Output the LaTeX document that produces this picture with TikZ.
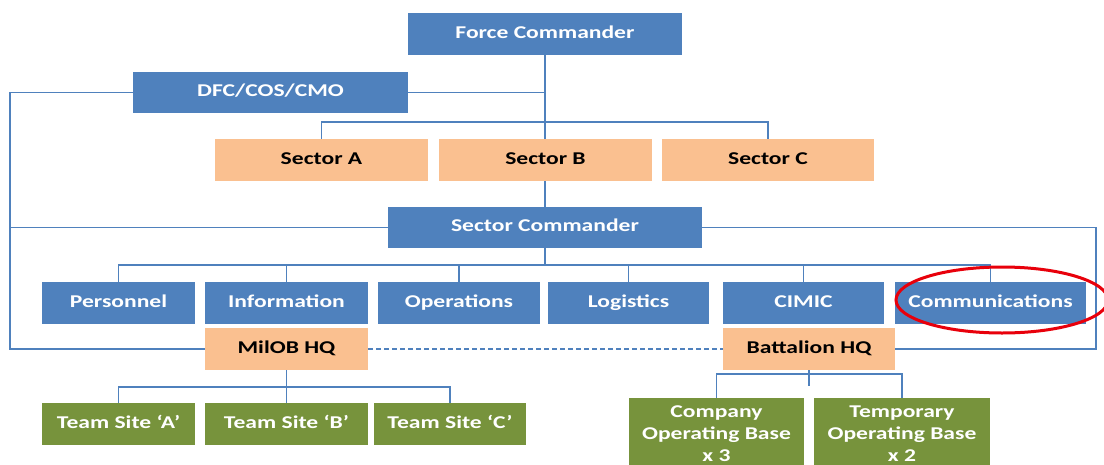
\documentclass[tikz,border=0pt]{standalone}
\usepackage{fontspec}
\setmainfont{Carlito}
\usepackage{graphicx}
\usetikzlibrary{calc,shapes.geometric}
\definecolor{offblue}{HTML}{4F81BD}
\definecolor{offorange}{HTML}{FAC090}
\definecolor{offgreen}{HTML}{77933C}
\definecolor{linecol}{HTML}{4F81BD}
\definecolor{ringred}{HTML}{E8000B}
\pgfdeclarelayer{bg}
\pgfsetlayers{bg,main}
\newcommand{\btxt}[1]{\scalebox{1.31}[1]{\begin{tabular}{@{}c@{}}#1\end{tabular}}}
\begin{document}
\begin{tikzpicture}[x=1pt,y=-1pt,
  box/.style={rectangle, inner sep=0pt, font=\fontsize{18}{22}\selectfont\bfseries},
  bluebox/.style={box, fill=offblue, text=white},
  orangebox/.style={box, fill=offorange, text=black},
  greenbox/.style={box, fill=offgreen, text=white},
  conn/.style={draw=linecol, line width=1.4pt},
  dconn/.style={conn, dashed, dash pattern=on 5pt off 3pt},
  ring/.style={draw=ringred, line width=3pt}]
\useasboundingbox (0,0) rectangle (1104,464);

% top level
\node[bluebox, minimum width=274pt, minimum height=42pt] (fc) at (545,34) {\btxt{Force Commander}};
\node[bluebox, minimum width=275pt, minimum height=41pt] (dfc) at (270.5,92.5) {\btxt{DFC/COS/CMO}};
\node[orangebox, minimum width=213pt, minimum height=42pt] (secA) at (321.5,160) {\btxt{Sector A}};
\node[orangebox, minimum width=213pt, minimum height=42pt] (secB) at (545.5,160) {\btxt{Sector B}};
\node[orangebox, minimum width=212pt, minimum height=42pt] (secC) at (768,160) {\btxt{Sector C}};
\node[bluebox, minimum width=314pt, minimum height=41pt] (sc) at (545,227.5) {\btxt{Sector Commander}};

% staff
\node[bluebox, minimum width=153pt, minimum height=42pt] (pers) at (118.5,303) {\btxt{Personnel}};
\node[bluebox, minimum width=163pt, minimum height=42pt] (info) at (286.5,303) {\btxt{Information}};
\node[bluebox, minimum width=162pt, minimum height=42pt] (ops) at (459,303) {\btxt{Operations}};
\node[bluebox, minimum width=161pt, minimum height=42pt] (logi) at (628.5,303) {\btxt{Logistics}};
\node[bluebox, minimum width=161pt, minimum height=42pt] (cimic) at (803.5,303) {\btxt{CIMIC}};
\node[bluebox, minimum width=191pt, minimum height=42pt] (comm) at (990.5,303) {\btxt{Communications}};

% HQs
\node[orangebox, minimum width=163pt, minimum height=42pt] (milob) at (286.5,349) {\btxt{MilOB HQ}};
\node[orangebox, minimum width=172pt, minimum height=42pt] (batt) at (809,349) {\btxt{Battalion HQ}};

% team sites
\node[greenbox, minimum width=153pt, minimum height=42pt] (tsA) at (118.5,424) {\btxt{Team Site ‘A’}};
\node[greenbox, minimum width=163pt, minimum height=42pt] (tsB) at (286.5,424) {\btxt{Team Site ‘B’}};
\node[greenbox, minimum width=152pt, minimum height=42pt] (tsC) at (450,424) {\btxt{Team Site ‘C’}};

% bases
\node[greenbox, minimum width=175pt, minimum height=74pt] (cob) at (716.5,435) {\btxt{Company\\Operating Base\\x 3}};
\node[greenbox, minimum width=176pt, minimum height=74pt] (tob) at (902,435) {\btxt{Temporary\\Operating Base\\x 2}};

\coordinate (L) at (10,0);
\coordinate (R) at (1096,0);

\begin{pgfonlayer}{bg}
  \fill[white] (0,0) rectangle (1104,464);
  % trunk
  \draw[conn] (fc.south) -- (sc.north);
  \draw[conn] (dfc.east) -- (dfc.east -| fc.south);
  \draw[conn] (dfc.west) -- (dfc.west -| L) |- (milob.west);
  \draw[conn] (sc.west) -- (sc.west -| L);
  \draw[conn] (sc.east) -| (R |- batt.east) -- (batt.east);
  % sectors bus
  \draw[conn] (secA.north) -- ++(0,-17) -| (secC.north);
  % staff bus
  \draw[conn] (sc.south) -- ++(0,17);
  \draw[conn] (pers.north) -- ++(0,-17) -| (comm.north);
  \foreach \n in {info,ops,logi,cimic} \draw[conn] (\n.north) -- ++(0,-17);
  % milob to team sites
  \draw[conn] (milob.south) -- ++(0,17);
  \draw[conn] (tsA.north) -- ++(0,-16) -| (tsC.north);
  \draw[conn] (tsB.north) -- ++(0,-16);
  % battalion to bases
  \draw[conn] (batt.south) -- ++(0,16);
  \draw[conn] (cob.north) -- ++(0,-24) -| (tob.north);
\end{pgfonlayer}
\draw[dconn] (milob.east) -- (batt.west);

% highlight
\node[ring, ellipse, minimum width=212pt, minimum height=66pt, inner sep=0pt] (hl) at (1002,300) {};
\end{tikzpicture}
\end{document}
